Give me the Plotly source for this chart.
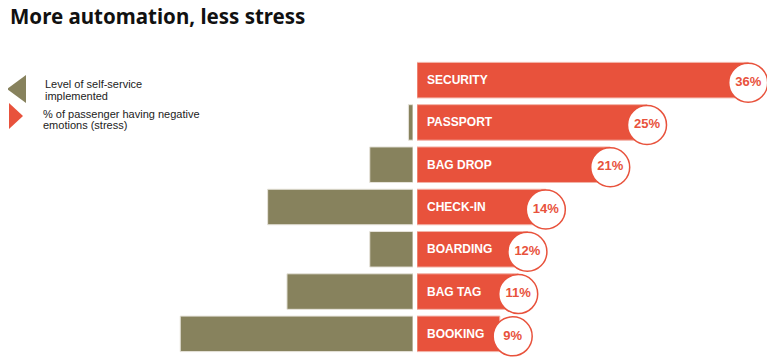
import plotly.graph_objects as go

W, H = 775, 363
OFF = 8  # page body margin in the browser

title_text = "More automation, less stress"
categories = ["SECURITY", "PASSPORT", "BAG DROP", "CHECK-IN", "BOARDING", "BAG TAG", "BOOKING"]
stress = [36, 25, 21, 14, 12, 11, 9]
self_service = [0, 0.5, 4.7, 15.8, 4.7, 13.7, 25.3]
stress_labels = [f"{v}%" for v in stress]

legend_lines_1 = ["Level of self-service", "implemented"]
legend_lines_2 = ["% of passenger having negative", "emotions (stress)"]

RED = "#E8523C"
OLIVE = "#87825D"
FONT = "Liberation Sans, Arial, sans-serif"
MIN_BADGE = 10.4  # badges never sit over the category label


def px(x):
    return (x - OFF) / W


def py(y):
    return 1 - (y - OFF) / H


badge_x = [max(v, MIN_BADGE) for v in stress]

fig = go.Figure()

fig.add_bar(
    y=categories, x=self_service, orientation="h", xaxis="x", yaxis="y",
    marker=dict(color=OLIVE, line=dict(color="#e6e3da",
                                       width=[1 if v > 0 else 0 for v in self_service])),
    hoverinfo="skip",
)
fig.add_bar(
    y=categories, x=stress, orientation="h", xaxis="x2", yaxis="y",
    marker=dict(color=RED, line=dict(color="#f3b3a8", width=1)),
    hoverinfo="skip",
)
fig.add_scatter(
    x=badge_x, y=categories, xaxis="x2", yaxis="y2",
    mode="markers+text", text=stress_labels, textposition="middle center",
    textfont=dict(family=FONT, size=13, color=RED, weight="bold"),
    marker=dict(size=39, color="white", line=dict(color=RED, width=1.5)),
    cliponaxis=False, hoverinfo="skip",
)

annotations = [dict(
    x=px(8), y=py(16), xref="paper", yref="paper", xanchor="left", yanchor="middle",
    text=title_text, showarrow=False,
    font=dict(family="Noto Sans, sans-serif", size=20.5, color="#111", weight="bold"),
)]
for c in categories:
    annotations.append(dict(
        x=0, y=c, xref="x2", yref="y", xanchor="left", yanchor="middle",
        xshift=8, text=c, showarrow=False,
        font=dict(family=FONT, size=12, color="white", weight="bold"),
    ))

for i, t in enumerate(legend_lines_1):
    annotations.append(dict(
        x=px(43), y=py(84 + 11.5 * i), xref="paper", yref="paper",
        xanchor="left", yanchor="middle", text=t, showarrow=False,
        font=dict(family=FONT, size=11, color="#222"),
    ))
for i, t in enumerate(legend_lines_2):
    annotations.append(dict(
        x=px(41), y=py(113.5 + 11.7 * i), xref="paper", yref="paper",
        xanchor="left", yanchor="middle", text=t, showarrow=False,
        font=dict(family=FONT, size=11, color="#222"),
    ))

shapes = [
    dict(type="path", xref="paper", yref="paper",
         path=f"M {px(7)} {py(89)} L {px(26)} {py(75)} L {px(26)} {py(103)} Z",
         fillcolor=OLIVE, line=dict(width=0)),
    dict(type="path", xref="paper", yref="paper",
         path=f"M {px(9)} {py(103)} L {px(23)} {py(116)} L {px(9)} {py(129)} Z",
         fillcolor=RED, line=dict(width=0)),
]

scale = 9.2  # px per unit
ycommon = dict(categoryorder="array", categoryarray=categories, range=[6.5, -0.5],
               autorange=False, visible=False, fixedrange=True)
fig.update_layout(
    width=W, height=H,
    margin=dict(l=0, r=0, t=0, b=0),
    paper_bgcolor="white", plot_bgcolor="rgba(0,0,0,0)",
    showlegend=False,
    barmode="overlay",
    bargap=0.16,
    xaxis=dict(domain=[0, px(413)], range=[(413 - OFF) / scale, 0], visible=False, fixedrange=True),
    xaxis2=dict(domain=[px(417), 1], range=[0, (W + OFF - 417) / scale], visible=False,
                anchor="y", fixedrange=True),
    yaxis=dict(domain=[py(355), py(59)], anchor="x", **ycommon),
    yaxis2=dict(domain=[py(357.5), py(61.5)], anchor="x2", **ycommon),
    annotations=annotations,
    shapes=shapes,
)

fig.write_html("out.html")
